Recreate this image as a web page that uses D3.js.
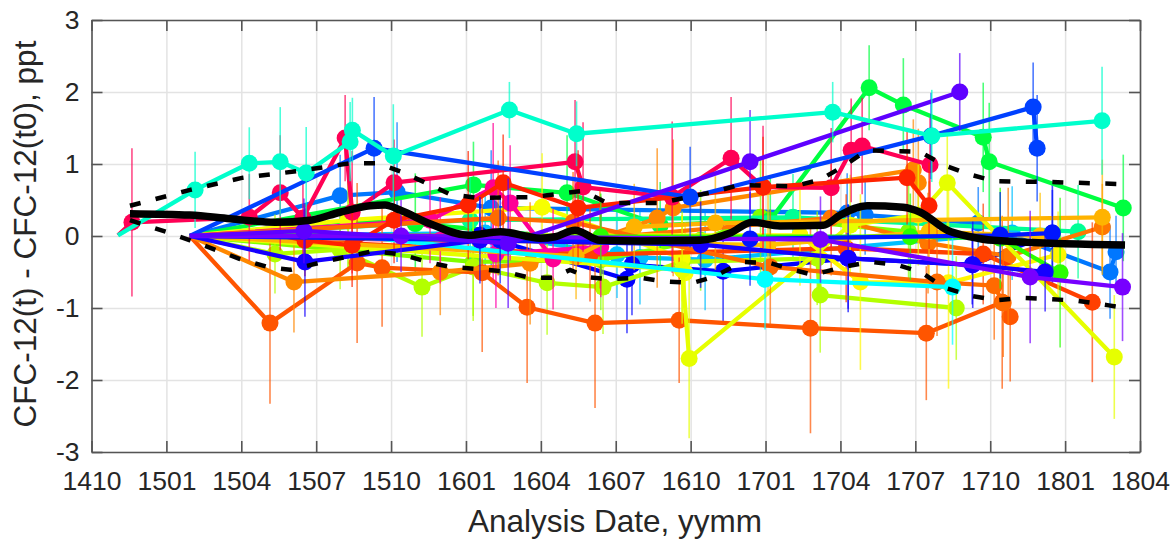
<!DOCTYPE html>
<html>
<head>
<meta charset="utf-8">
<script src="https://d3js.org/d3.v7.min.js"></script>
<style>
	body { margin: 0; background: #fff; }
	text { font-family: "Liberation Sans", Arial, sans-serif; fill: #262626; }
</style>
</head>
<body>
<svg></svg>
<script>
	// months counted from the 1410 analysis date
	var xTickLabels = ["1410","1501","1504","1507","1510","1601","1604","1607","1610","1701","1704","1707","1710","1801","1804"];
	var yTicks = [-3,-2,-1,0,1,2,3];

	// one hue per sample
	var seriesHues = [20,32,25,42,45,8,340,325,320,62,58,66,78,90,130,110,135,155,168,180,195,212,225,240,235,245,262,268,15,28];
	// which sample goes on top of which
	var drawOrder = [14,20,21,23,13,16,17,12,9,0,1,29,28,10,11,7,8,3,4,2,6,5,15,19,22,25,24,27,26,18];

	var seriesMonths = [
		[3.94,7.15,10.64,11.64,15.65,17.45,20.17,23.54,28.8,33.44,36.48,36.8],
		[3.94,8.11,13.97,17.57,22.66,23.3,32.92,33.12],
		[3.94,16.29,19.29,27.19,33.87,36.16,36.52],
		[3.94,19.41,21.74,24.99,40.49],
		[3.94,27.1,33.55,38],
		[7.55,8.55,10.44,12.12,15.09,16.49,19.49,26.9,32.67,33.55],
		[1.06,1.62,6.32,7.56,8.47,10.16,10.44,12.12,19.37,19.69,23.26,25.62,26.9,29.63,30.43,30.87,33.59],
		[3.94,13.56,16.09,16.77,18.49],
		[3.94,13.97,16.09,16.2,20.4],
		[3.94,10.28,18.05,23.66,23.78],
		[3.94,28.38,30.8,34.33,38.72],
		[3.94,23.66,23.94,30.39,33.12,34.28,40.97],
		[3.94,7.35,9.96,13.24,15.29,18.25,20.49,23.66,29.07,29.19,34.64],
		[3.94,15.29,20.4,24.4,26.8,32.73],
		[3.94,10.28,12.97,20.4],
		[7.55,20.4,32.8,36.4,38.8],
		[3.94,15.3,19.05,22.78,27.19,31.15,32.52,35.72,35.96,41.33],
		[3.94,15.17,28.1,39.52],
		[1.06,4.15,6.32,7.56,8.60,10.36,10.45,12.09,16.74,19.43,29.69,33.66,40.48],
		[10.56,26.98,34.49],
		[3.94,15.77,21.05,21.97,24.58,36.88],
		[3.94,9.96,12.24,16.01,30.27,30.99,35.52,40.8,41.04],
		[3.94,11.32,23.98,33.63,37.72,37.88],
		[3.94,15.56,21.45,21.65,25.3,30.31,35.28,38.49],
		[3.94,16.37,26.38,36.4,38.49],
		[3.94,8.55,15.56,24.4,30.31,35.3,38.2],
		[3.94,8.51,16.69,26.38,34.78],
		[3.94,12.4,29.2,37.6,41.3],
		[3.94,19.97,30.23,35.72,40.09],
		[3.94,20.37,29.63,33.51,36.72,40.49]
	];
	var seriesValues = [
		[0,-1.21,-.375,-.44,-.51,-.99,-1.21,-1.17,-1.28,-1.35,-.92,-1.12],
		[0,-.64,-.5,-.38,.25,.39,.92,.74],
		[0,.25,.19,-.43,-.64,-.69,-.93],
		[0,-.28,.125,.18,.26],
		[0,-.125,.06,0],
		[.01,-.06,-.13,.22,.43,.74,.39,.68,.81,.42],
		[.01,.19,.26,.60,.25,1.36,.33,.74,1.03,.68,.54,1.08,.68,.67,1.19,1.25,.99],
		[0,.22,.67,.46,-.32],
		[0,-.06,-.01,-.25,-.15],
		[0,.22,.40,-.31,-.51],
		[0,.01,-.64,-.65,-.26],
		[0,-.47,-1.70,.15,.29,.74,-1.68],
		[0,-.25,-.19,-.71,-.43,-.65,-.71,-.36,-.31,-.82,-1.0],
		[0,-.36,-.33,-.06,.26,.06],
		[0,.21,.17,-.06],
		[.01,-.01,-.01,-.03,-.51],
		[0,.71,.60,.15,.22,2.06,1.82,1.37,1.03,.39],
		[0,.22,.26,.06],
		[.01,.64,1.01,1.03,.875,1.31,1.47,1.11,1.75,1.42,1.72,1.39,1.60],
		[0,-.6,-.71],
		[0,.04,-.26,-.3,-.33,.04],
		[0,.56,.61,.39,.32,.29,.18,-.5,-.22],
		[0,1.22,.54,1.39,1.79,1.22],
		[0,.01,-.6,-.4,-.49,-.31,-.4,.04],
		[0,-.06,-.04,.01,.04],
		[0,-.36,-.06,-.12,-.31,-.40,-.5],
		[0,.07,-.10,1.03,2.0],
		[0,0,-.05,-.57,-.71],
		[0,-.26,-.17,-.25,-.92],
		[0,-.03,.25,-.10,-.28,.125]
	];
	// half length of the error bar, 0 on the t0 point which gets no marker
	var seriesErrors = [
		[0,1.12,1.11,.82,1.1,1.05,1.18,.87,1.46,.93,1.2,.9],
		[0,.7,.6,.85,.97,.95,.7,.75],
		[0,.8,.7,.8,.75,.75,.75],
		[0,.6,.6,.65,.8],
		[0,.7,.7,.6],
		[0,.5,.58,.6,.75,.67,.8,.7,.65,.6],
		[0,1.03,.6,.8,.6,.6,.85,.6,.86,.9,1.05,.85,.85,.83,.72,.67,.65],
		[0,.6,.9,.8,.7],
		[0,.6,.6,.75,.7],
		[0,.65,.75,.6,.7],
		[0,.7,1.22,1.47,.6],
		[0,.75,1.11,.7,.7,.75,.86],
		[0,.55,.55,.69,.75,.72,.65,.7,.65,.8,.72],
		[0,.75,.7,.7,.8,.7],
		[0,.7,.7,.6],
		[0,.6,.6,.7,1.04],
		[0,.6,.8,.6,.6,.59,.65,.76,.82,.74],
		[0,.6,.6,.65],
		[0,.53,.5,.76,.64,.55,.45,.72,.39,.45,.42,.64,.75],
		[0,.7,.8],
		[0,.6,.6,.65,.7,.65],
		[0,.57,.97,.8,.55,.55,.5,.65,.5],
		[0,.71,.7,.6,.62,.74],
		[0,.6,.75,.7,.7,.75,.55,.7],
		[0,.6,.65,.6,.6],
		[0,.76,.6,.6,.7,.6,.55],
		[0,.45,.9,.72,.54],
		[0,.5,.6,.92,.75],
		[0,.65,.75,.7,1.11],
		[0,.7,.8,.7,.95,.6]
	];

	var meanMonths = [1.54,3.94,5.55,7.35,8.76,9.96,11.16,11.76,12.36,13.56,15.09,16.37,17.97,18.57,19.37,20.37,21.98,24.38,25.58,26.46,27.58,29.31,29.99,31.07,32.51,33.2,34.28,35.2,36.12,41.4];
	var meanValues = [.31,.29,.24,.19,.22,.33,.42,.43,.36,.17,.01,.06,-.03,-.01,.08,-.06,-.07,-.06,.04,.19,.14,.15,.29,.42,.40,.33,.08,-.01,-.06,-.125];
	var upperMonths = [1.54,3.95,6.07,8.23,10.36,11.44,12.44,14.36,15.44,17.57,19.69,20.65,22.78,24.9,25.98,28.11,29.19,30.07,31.07,33.19,34.11,35.12,36.2,38.32,41.4];
	var upperValues = [.42,.64,.81,.90,1.01,1.01,.89,.58,.53,.54,.625,.46,.46,.61,.71,.69,.78,.96,1.19,1.17,.99,.86,.76,.75,.72];
	var lowerMonths = [1.54,3.14,3.95,5.95,7.15,7.96,9.28,11.28,12.48,13.44,14.36,15.56,16.49,17.57,18.49,19.17,19.85,20.77,21.98,22.9,24.1,24.9,26.1,27.19,27.99,28.91,30.11,31.19,32.27,33.27,34.11,35.2,36.28,37.32,38.4,39.48,40.69,41.4];
	var lowerValues = [.22,.04,-.06,-.32,-.44,-.47,-.36,-.21,-.26,-.36,-.43,-.46,-.49,-.58,-.58,-.47,-.57,-.6,-.58,-.63,-.65,-.57,-.36,-.375,-.46,-.54,-.43,-.36,-.40,-.51,-.71,-.83,-.89,-.86,-.875,-.90,-.96,-1.0];

	var margin = { "left":91.5, "right":32, "top":20, "bottom":87 };
	var width = 1172;
	var height = 539;
	var svg = d3.select("svg").attr("width", width).attr("height", height).style("display", "block");

	var x = d3.scaleLinear().domain([0, 42]).range([margin.left, width-margin.right]);
	var y = d3.scaleLinear().domain([-3, 3]).range([height-margin.bottom, margin.top]);
	var xTicks = xTickLabels.map(function(d, i) { return i*3; });

	// grid under the data
	svg.append("g").attr("transform", "translate(0," + y(-3) + ")")
		.call(d3.axisBottom(x).tickValues(xTicks).tickSize(-(y(-3)-y(3))).tickFormat(""))
		.call(function(g) { g.select(".domain").remove(); g.selectAll("line").attr("stroke", "#e3e3e3").attr("stroke-width", 1.5); });
	svg.append("g").attr("transform", "translate(" + x(0) + ",0)")
		.call(d3.axisLeft(y).tickValues(yTicks).tickSize(-(x(42)-x(0))).tickFormat(""))
		.call(function(g) { g.select(".domain").remove(); g.selectAll("line").attr("stroke", "#e3e3e3").attr("stroke-width", 1.5); });

	var line = d3.line().x(function(d) { return x(d.m); }).y(function(d) { return y(d.v); });
	function zipPoints(months, values, errors) {
		return months.map(function(m, i) { return { m:m, v:values[i], e:errors ? errors[i] : 0 }; });
	}

	drawOrder.forEach(function(s) {
		var color = d3.hsl(seriesHues[s], 1, .5).toString();
		var pts = zipPoints(seriesMonths[s], seriesValues[s], seriesErrors[s]);
		var marked = pts.filter(function(d) { return d.e > 0; });
		var g = svg.append("g");
		g.selectAll("line").data(marked).enter().append("line")
			.attr("x1", function(d) { return x(d.m); })
			.attr("x2", function(d) { return x(d.m); })
			.attr("y1", function(d) { return y(d.v-d.e); })
			.attr("y2", function(d) { return y(d.v+d.e); })
			.attr("stroke", color)
			.attr("stroke-opacity", .7)
			.attr("stroke-width", 1.6);
		g.append("path").datum(pts)
			.attr("fill", "none")
			.attr("stroke", color)
			.attr("stroke-width", 4.3)
			.attr("stroke-linejoin", "round")
			.attr("d", line);
		g.selectAll("circle").data(marked).enter().append("circle")
			.attr("cx", function(d) { return x(d.m); })
			.attr("cy", function(d) { return y(d.v); })
			.attr("r", 8.5)
			.attr("fill", color);
	});

	[[upperMonths, upperValues], [lowerMonths, lowerValues]].forEach(function(b) {
		svg.append("path").datum(zipPoints(b[0], b[1]))
			.attr("fill", "none")
			.attr("stroke", "#000")
			.attr("stroke-width", 4.5)
			.attr("stroke-dasharray", "11,15.5")
			.attr("d", line);
	});
	svg.append("path").datum(zipPoints(meanMonths, meanValues))
		.attr("fill", "none")
		.attr("stroke", "#000")
		.attr("stroke-width", 7.5)
		.attr("stroke-linejoin", "round")
		.attr("d", line.curve(d3.curveMonotoneX));
	line.curve(d3.curveLinear);

	// box with inward ticks on all four sides
	function styleAxis(g) {
		g.selectAll(".domain").attr("stroke", "#555").attr("stroke-width", 1.6);
		g.selectAll("line").attr("stroke", "#555").attr("stroke-width", 1.6);
		g.selectAll("text").attr("font-size", 26.5).style("fill", "#262626");
	}
	var tickLen = 11;
	svg.append("g").attr("transform", "translate(0," + y(-3) + ")")
		.call(d3.axisBottom(x).tickValues(xTicks).tickSizeInner(-tickLen).tickSizeOuter(0).tickPadding(tickLen+8)
			.tickFormat(function(d, i) { return xTickLabels[i]; }))
		.call(styleAxis);
	svg.append("g").attr("transform", "translate(0," + y(3) + ")")
		.call(d3.axisTop(x).tickValues(xTicks).tickSizeInner(-tickLen).tickSizeOuter(0).tickFormat(""))
		.call(styleAxis);
	svg.append("g").attr("transform", "translate(" + x(0) + ",0)")
		.call(d3.axisLeft(y).tickValues(yTicks).tickSizeInner(-tickLen).tickSizeOuter(0).tickPadding(tickLen+1)
			.tickFormat(function(d) { return String(d); }))
		.call(styleAxis);
	svg.append("g").attr("transform", "translate(" + x(42) + ",0)")
		.call(d3.axisRight(y).tickValues(yTicks).tickSizeInner(-tickLen).tickSizeOuter(0).tickFormat(""))
		.call(styleAxis);

	svg.append("text")
		.attr("x", 615)
		.attr("y", 532)
		.attr("text-anchor", "middle")
		.attr("font-size", 31.5)
		.text("Analysis Date, yymm");
	svg.append("text")
		.attr("transform", "translate(36,234) rotate(-90)")
		.attr("text-anchor", "middle")
		.attr("font-size", 31.5)
		.text("CFC-12(t) - CFC-12(t0), ppt");
</script>
</body>
</html>
